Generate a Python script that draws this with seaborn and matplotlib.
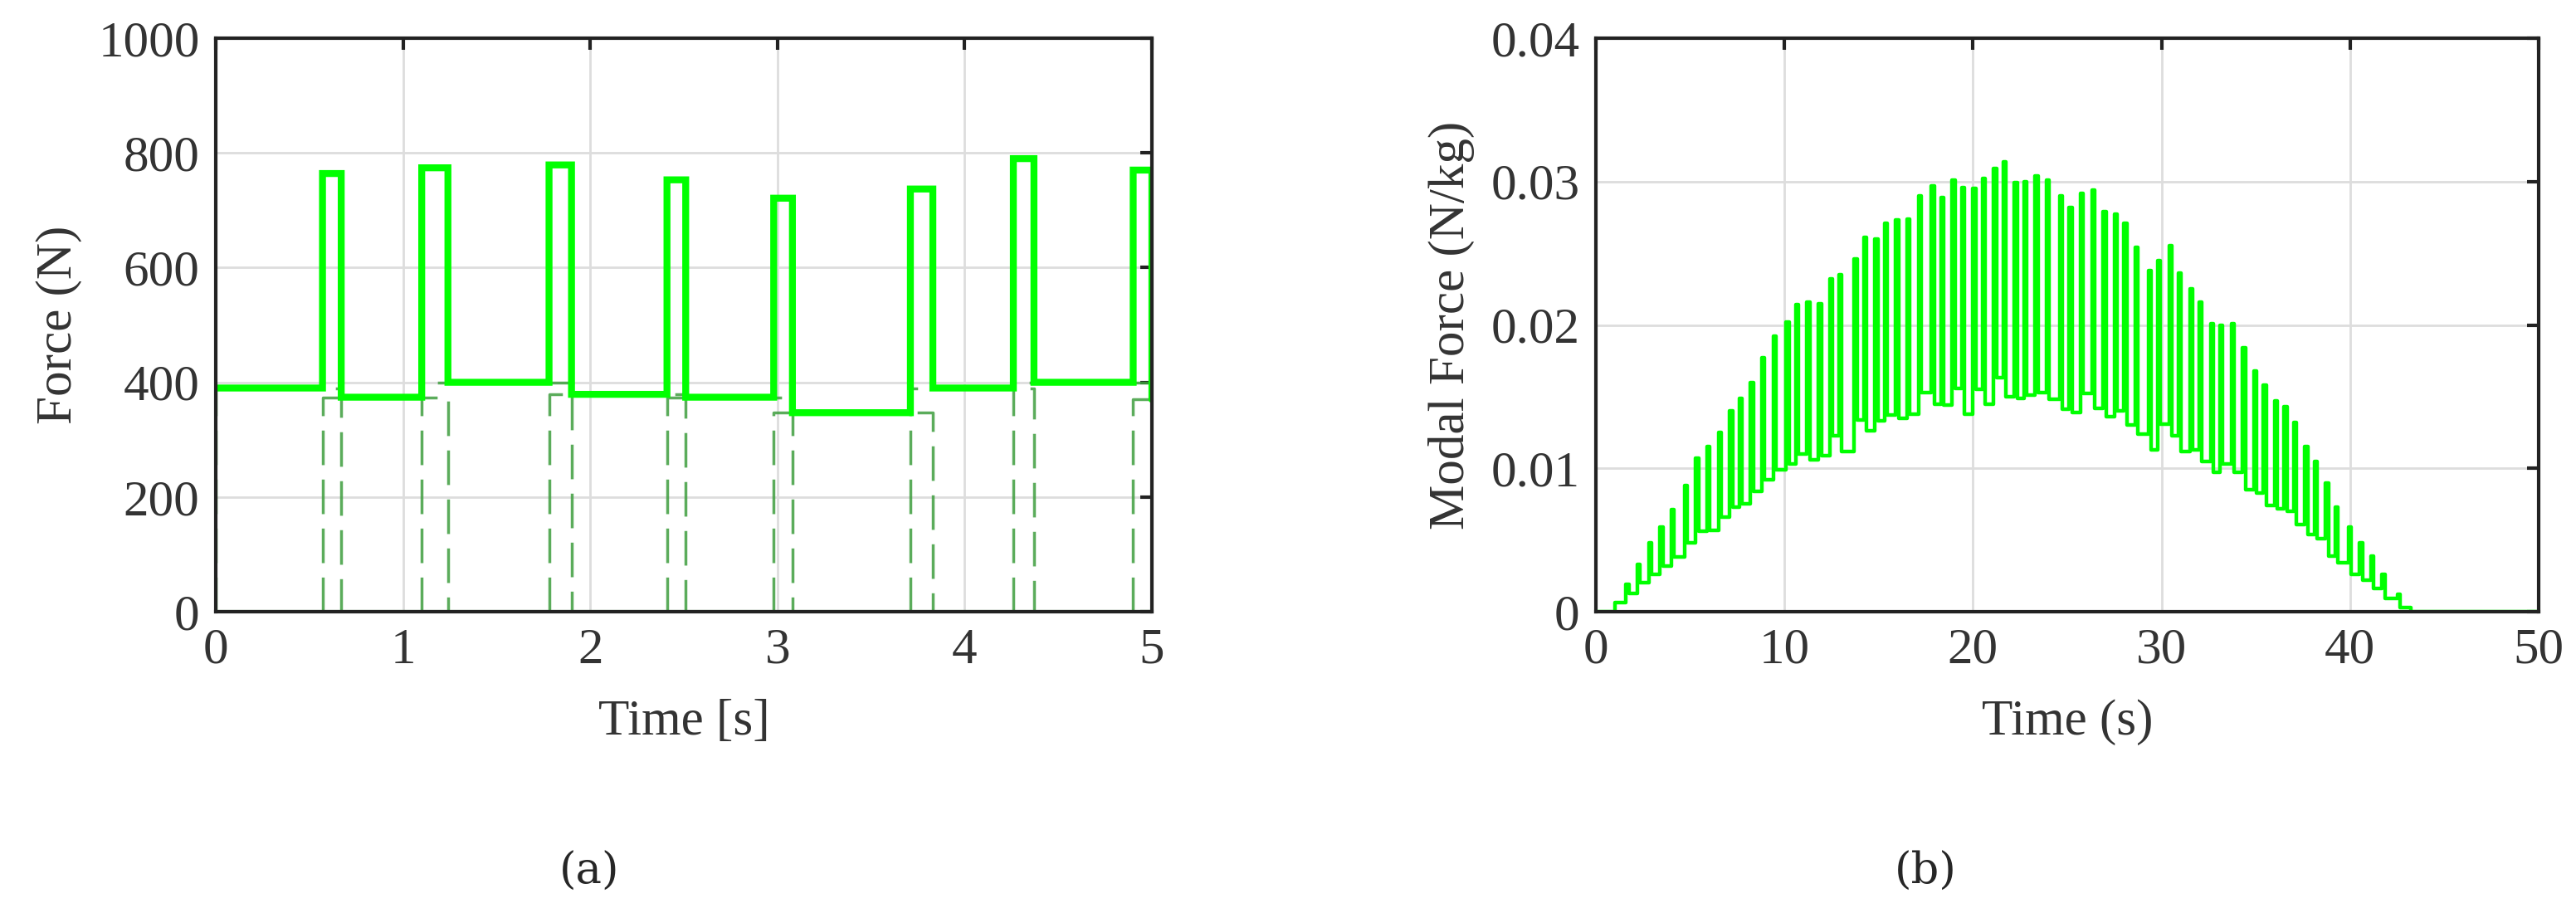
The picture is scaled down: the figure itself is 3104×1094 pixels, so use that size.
import numpy as np
import matplotlib
matplotlib.use("Agg")
import matplotlib.pyplot as plt
import seaborn as sns

# ---------- panel (a): two-foot step forces ----------
step_on = [0.0, 0.57, 1.10, 1.78, 2.41, 2.98, 3.71, 4.26, 4.90]
step_off = [0.67, 1.24, 1.90, 2.51, 3.08, 3.83, 4.37, 5.00, 5.20]
step_level = [390, 374, 400, 379, 374, 347, 390, 400, 370]

# ---------- panel (b): modal force pulses ----------
pulse_t = [1.6, 2.2, 2.8, 3.4, 4.0, 4.7, 5.3, 5.9, 6.5, 7.1, 7.6, 8.2, 8.8, 9.4, 10.1, 10.6,
           11.2, 11.8, 12.4, 12.9, 13.7, 14.2, 14.8, 15.3, 15.9, 16.5, 17.1, 17.8, 18.3, 18.9,
           19.4, 20.0, 20.5, 21.1, 21.6, 22.2, 22.7, 23.3, 23.9, 24.6, 25.1, 25.7, 26.3, 26.9,
           27.5, 28.0, 28.6, 29.3, 29.8, 30.4, 30.9, 31.5, 32.0, 32.6, 33.1, 33.7, 34.3, 34.9,
           35.4, 36.0, 36.5, 37.0, 37.6, 38.1, 38.7, 39.2, 39.9, 40.5, 41.1, 41.7, 42.5]
pulse_peak = [0.0019, 0.0033, 0.0048, 0.0059, 0.0071, 0.0088, 0.0107, 0.0115, 0.0125, 0.0140,
              0.0149, 0.0160, 0.0177, 0.0192, 0.0202, 0.0214, 0.0216, 0.0215, 0.0232, 0.0235,
              0.0246, 0.0261, 0.0260, 0.0271, 0.0273, 0.0274, 0.0290, 0.0297, 0.0289, 0.0301,
              0.0296, 0.0295, 0.0302, 0.0309, 0.0314, 0.0299, 0.0300, 0.0304, 0.0301, 0.0290,
              0.0282, 0.0292, 0.0294, 0.0279, 0.0277, 0.0271, 0.0254, 0.0238, 0.0245, 0.0255,
              0.0236, 0.0225, 0.0216, 0.0201, 0.0200, 0.0201, 0.0184, 0.0168, 0.0158, 0.0147,
              0.0143, 0.0132, 0.0115, 0.0105, 0.0090, 0.0073, 0.0059, 0.0048, 0.0039, 0.0026,
              0.0012]
pulse_base = [0.0013, 0.0020, 0.0026, 0.0032, 0.0038, 0.0048, 0.0056, 0.0057, 0.0066, 0.0073,
              0.0075, 0.0084, 0.0092, 0.0099, 0.0103, 0.0110, 0.0106, 0.0109, 0.0123, 0.0112,
              0.0134, 0.0126, 0.0133, 0.0137, 0.0135, 0.0138, 0.0153, 0.0145, 0.0144, 0.0156,
              0.0138, 0.0155, 0.0145, 0.0163, 0.0150, 0.0149, 0.0151, 0.0153, 0.0148, 0.0141,
              0.0139, 0.0152, 0.0142, 0.0136, 0.0140, 0.0130, 0.0124, 0.0113, 0.0131, 0.0123,
              0.0112, 0.0113, 0.0105, 0.0097, 0.0103, 0.0097, 0.0085, 0.0083, 0.0074, 0.0072,
              0.0070, 0.0061, 0.0054, 0.0051, 0.0039, 0.0034, 0.0026, 0.0022, 0.0016, 0.0009,
              0.0003]
start_t, start_level, end_t = 1.0, 0.00065, 43.2

sns.set_theme(style="whitegrid")
plt.rcParams['font.family'] = ['Liberation Serif', 'DejaVu Serif']
plt.rcParams.update({
    'xtick.direction': 'in', 'ytick.direction': 'in',
    'xtick.top': True, 'ytick.right': True,
    'xtick.major.size': 10, 'ytick.major.size': 10,
    'xtick.major.width': 3, 'ytick.major.width': 3,
    'xtick.color': '#222222', 'ytick.color': '#222222',
    'xtick.labelcolor': '#333333', 'ytick.labelcolor': '#333333',
    'grid.color': '#dddddd', 'grid.linewidth': 2.0,
})

fig = plt.figure(figsize=(31.04, 10.94), dpi=100)
W, H = 3104, 1094
axA = fig.add_axes([260 / W, 1 - 737 / H, (1388 - 260) / W, (737 - 46) / H])
axB = fig.add_axes([1923 / W, 1 - 737 / H, (3059 - 1923) / W, (737 - 46) / H])

# panel (a)
tA = np.linspace(0, 5.0, 5001)
total = np.zeros_like(tA)
for on, off, lev in zip(step_on, step_off, step_level):
    foot = np.where((tA >= on) & (tA < off), lev, 0.0)
    total += foot
    xs = [on, on, min(off, 5.0), min(off, 5.0)]
    ys = [0, lev, lev, 0]
    sns.lineplot(x=xs, y=ys, ax=axA, color='#3e9e3e', lw=2.5, ls=(0, (12, 5)),
                 sort=False, estimator=None, alpha=0.85)
axA.plot(tA, total, color='#00ff00', lw=6, drawstyle='steps-post', solid_joinstyle='miter')
axA.axhline(0, color='#2f7f2f', lw=3)
axA.set_xlim(0, 5)
axA.set_ylim(0, 1000)
axA.set_xticks([0, 1, 2, 3, 4, 5])
axA.set_yticks([0, 200, 400, 600, 800, 1000])
axA.set_xlabel('Time [s]', fontsize=44, color='#333333', labelpad=22)
axA.set_ylabel('Force (N)', fontsize=44, color='#333333', labelpad=14)

# panel (b)
xs = [0.0, start_t]
ys = [0.0, start_level]
for t, p, b in zip(pulse_t, pulse_peak, pulse_base):
    xs += [t, t + 0.15]
    ys += [p, b]
xs += [end_t, 50.0]
ys += [0.0, 0.0]
axB.plot(xs, ys, color='#00ff00', lw=3.2, drawstyle='steps-post')
axB.set_xlim(0, 50)
axB.set_ylim(0, 0.04)
axB.set_xticks([0, 10, 20, 30, 40, 50])
axB.set_yticks([0, 0.01, 0.02, 0.03, 0.04])
axB.set_yticklabels(['0', '0.01', '0.02', '0.03', '0.04'])
axB.set_xlabel('Time (s)', fontsize=44, color='#333333', labelpad=22)
axB.set_ylabel('Modal Force (N/kg)', fontsize=44, color='#333333', labelpad=14)

for ax in (axA, axB):
    ax.tick_params(labelsize=44, pad=14)
    for s in ax.spines.values():
        s.set_color('#222222')
        s.set_linewidth(3)
    ax.grid(True)

fig.text(710 / W, 1 - 1050 / H, '(a)', fontsize=38, ha='center', va='center', family='DejaVu Serif')
fig.text(2320 / W, 1 - 1050 / H, '(b)', fontsize=38, ha='center', va='center', family='DejaVu Serif')

fig.savefig('out.png', dpi=100)
